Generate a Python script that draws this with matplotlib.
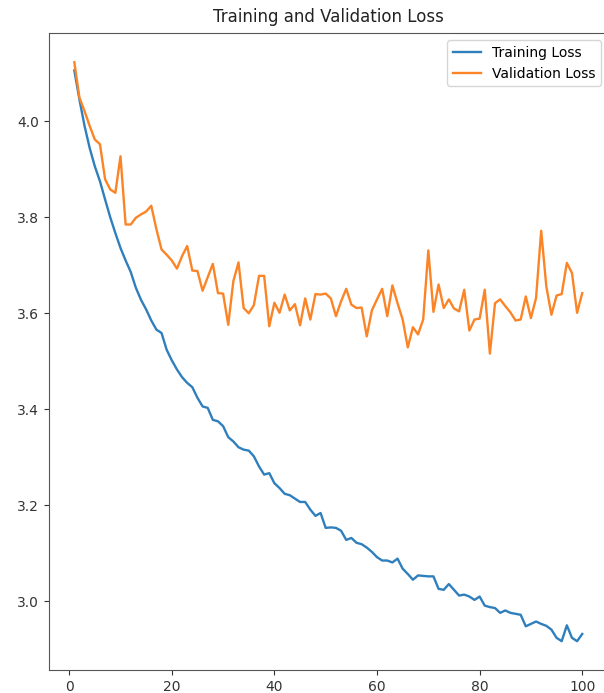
import numpy as np
import matplotlib
matplotlib.use("Agg")
import matplotlib.pyplot as plt

# loss values per epoch
epochs = list(range(1, 101))

train_loss = [
    4.106, 4.045, 3.990, 3.944, 3.906, 3.875, 3.837, 3.800, 3.767, 3.736,
    3.710, 3.686, 3.653, 3.628, 3.608, 3.585, 3.566, 3.559, 3.524, 3.502,
    3.483, 3.467, 3.455, 3.446, 3.424, 3.406, 3.403, 3.378, 3.375, 3.365,
    3.342, 3.333, 3.321, 3.316, 3.314, 3.302, 3.281, 3.264, 3.267, 3.246,
    3.236, 3.224, 3.221, 3.214, 3.207, 3.207, 3.191, 3.178, 3.184, 3.153,
    3.154, 3.153, 3.147, 3.128, 3.132, 3.122, 3.119, 3.112, 3.103, 3.092,
    3.085, 3.085, 3.081, 3.089, 3.068, 3.057, 3.045, 3.054, 3.053, 3.052,
    3.052, 3.026, 3.024, 3.036, 3.024, 3.012, 3.014, 3.010, 3.003, 3.010,
    2.991, 2.988, 2.986, 2.976, 2.981, 2.976, 2.974, 2.972, 2.948, 2.953,
    2.958, 2.953, 2.949, 2.941, 2.924, 2.917, 2.950, 2.924, 2.917, 2.932,
]

val_loss = [
    4.123, 4.049, 4.021, 3.990, 3.962, 3.952, 3.879, 3.858, 3.851, 3.927,
    3.785, 3.785, 3.799, 3.806, 3.812, 3.824, 3.775, 3.733, 3.722, 3.710,
    3.693, 3.719, 3.740, 3.689, 3.688, 3.647, 3.675, 3.703, 3.642, 3.641,
    3.576, 3.667, 3.706, 3.611, 3.600, 3.617, 3.678, 3.678, 3.573, 3.622,
    3.601, 3.639, 3.606, 3.619, 3.575, 3.631, 3.587, 3.640, 3.639, 3.641,
    3.631, 3.594, 3.625, 3.651, 3.618, 3.611, 3.612, 3.552, 3.606, 3.629,
    3.651, 3.594, 3.658, 3.621, 3.587, 3.529, 3.571, 3.556, 3.587, 3.731,
    3.603, 3.660, 3.611, 3.629, 3.610, 3.604, 3.649, 3.564, 3.587, 3.589,
    3.649, 3.516, 3.621, 3.629, 3.615, 3.602, 3.585, 3.587, 3.635, 3.590,
    3.632, 3.772, 3.656, 3.597, 3.637, 3.640, 3.705, 3.684, 3.601, 3.642,
]

fig = plt.figure(figsize=(6.04, 6.93), dpi=100)
# axes runs slightly past the right edge, like the cropped screenshot
ax = fig.add_axes([0.081, 0.033, 0.925, 0.919])

ax.plot(epochs, train_loss, color='#2f7fbd', lw=1.7, label='Training Loss')
ax.plot(epochs, val_loss, color='#fb8427', lw=1.7, label='Validation Loss')

ax.set_xticks([0, 20, 40, 60, 80, 100])
ax.set_yticks([3.0, 3.2, 3.4, 3.6, 3.8, 4.0])
ax.tick_params(labelsize=10, colors='#333333')
for s in ax.spines.values():
    s.set_color('#555555')

ax.set_title('Training and Validation Loss', fontsize=12, color='#222222', pad=8)
ax.legend(loc='upper right', fontsize=10)

plt.savefig('out.png', dpi=100)
plt.close()
